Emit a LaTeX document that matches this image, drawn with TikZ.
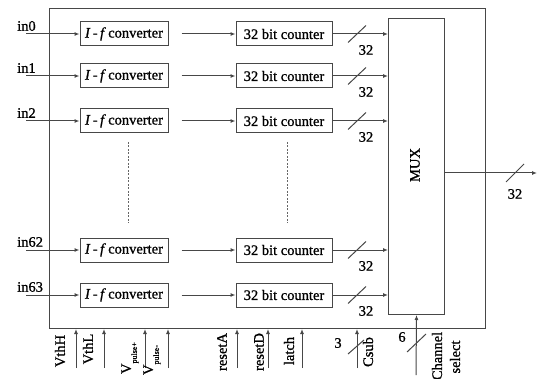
\documentclass[tikz,border=0pt]{standalone}
\usepackage{fontspec}
\setmainfont{Liberation Serif}[FakeBold=1.0]
\usetikzlibrary{arrows.meta,calc}
\begin{document}
\begin{tikzpicture}[x=1pt,y=-1pt,
  font=\fontsize{14.5}{16}\selectfont,
  ln/.style={line width=1pt, draw=black!72},
  arr/.style={ln, -{Latex[length=5pt,width=4pt]}},
  blk/.style={ln, rectangle, inner sep=0pt, minimum height=24pt},
  conv/.style={blk, minimum width=88pt},
  cnt/.style={blk, minimum width=96pt},
  lbl/.style={inner sep=0pt},
  rlbl/.style={inner sep=0pt, rotate=90},
  dots/.style={line width=0.8pt, draw=black!60, dash pattern=on 2pt off 1.5pt}]
\useasboundingbox (0,0) rectangle (540,379);
\node[ln, rectangle, minimum width=436pt, minimum height=320pt, anchor=north west, inner sep=0pt] (outer) at (49,8) {};
\node[ln, rectangle, minimum width=56pt, minimum height=296pt, anchor=north west, inner sep=0pt] (mux) at (388,18) {};
\node[rlbl] (muxl) at (415,165) {MUX};
\foreach \i/\y/\lab in {0/34/in0, 1/76/in1, 2/121/in2, 3/250/in62, 4/295/in63}{
  \node[conv] (c\i) at (124,\y) {\textit{I}\,-\,\textit{f}\,converter};
  \node[cnt] (k\i) at (284,\y) {32 bit counter};
  \coordinate (in\i) at (26,\y);
  \node[lbl, anchor=west] (inl\i) at (17,\y-8) {\lab};
  \draw[arr] (in\i) -- (c\i.west);
  \draw[arr, shorten <=13pt] (c\i.east) -- (k\i.west);
  \draw[arr] (k\i.east) -- (k\i.east -| mux.west);
  \draw[ln] (348,\y+8.5) -- (366,\y-8.5);
  \node[lbl] (bw\i) at (366,\y+16) {32};
}
\draw[dots] (128,142) -- (128,223);
\draw[dots] (287,142) -- (287,223);
% MUX output
\coordinate (mo) at (537,173);
\draw[arr] (mux.east |- mo) -- (mo);
\draw[ln] (506,182) -- (524,164);
\node[lbl] (mow) at (515,194) {32};
% bottom inputs
\foreach \n/\x in {vh/76, vl/104, vp/145, vm/168, ra/237, rd/268, la/302, cs/357}{
  \coordinate (b\n) at (\x,368);
  \draw[arr] (b\n) -- (b\n |- outer.south);
}
\node[rlbl] (lvh) at (60,351) {VthH};
\node[rlbl] (lvl) at (88,349) {VthL};
\node[rlbl] (lvp) at (130,358) {V\raisebox{-6pt}{\fontsize{8}{9}\selectfont pulse+}};
\node[rlbl] (lvm) at (152,360) {V\raisebox{-6pt}{\fontsize{8}{9}\selectfont pulse-}};
\node[rlbl] (lra) at (222,352) {resetA};
\node[rlbl] (lrd) at (259,352) {resetD};
\node[rlbl] (lla) at (289,351) {latch};
\node[rlbl] (lcs) at (368,352) {Csub};
\draw[ln] (348,354) -- (364,340);
\node[lbl] (n3) at (338,343) {3};
% channel select
\coordinate (chs) at (416,375);
\draw[arr] (chs) -- (mux.south);
\draw[ln] (407,352) -- (426,334);
\node[lbl] (n6) at (402,337) {6};
\node[rlbl] (lch) at (437,356) {Channel};
\node[rlbl] (lse) at (455,357) {select};
\end{tikzpicture}
\end{document}
